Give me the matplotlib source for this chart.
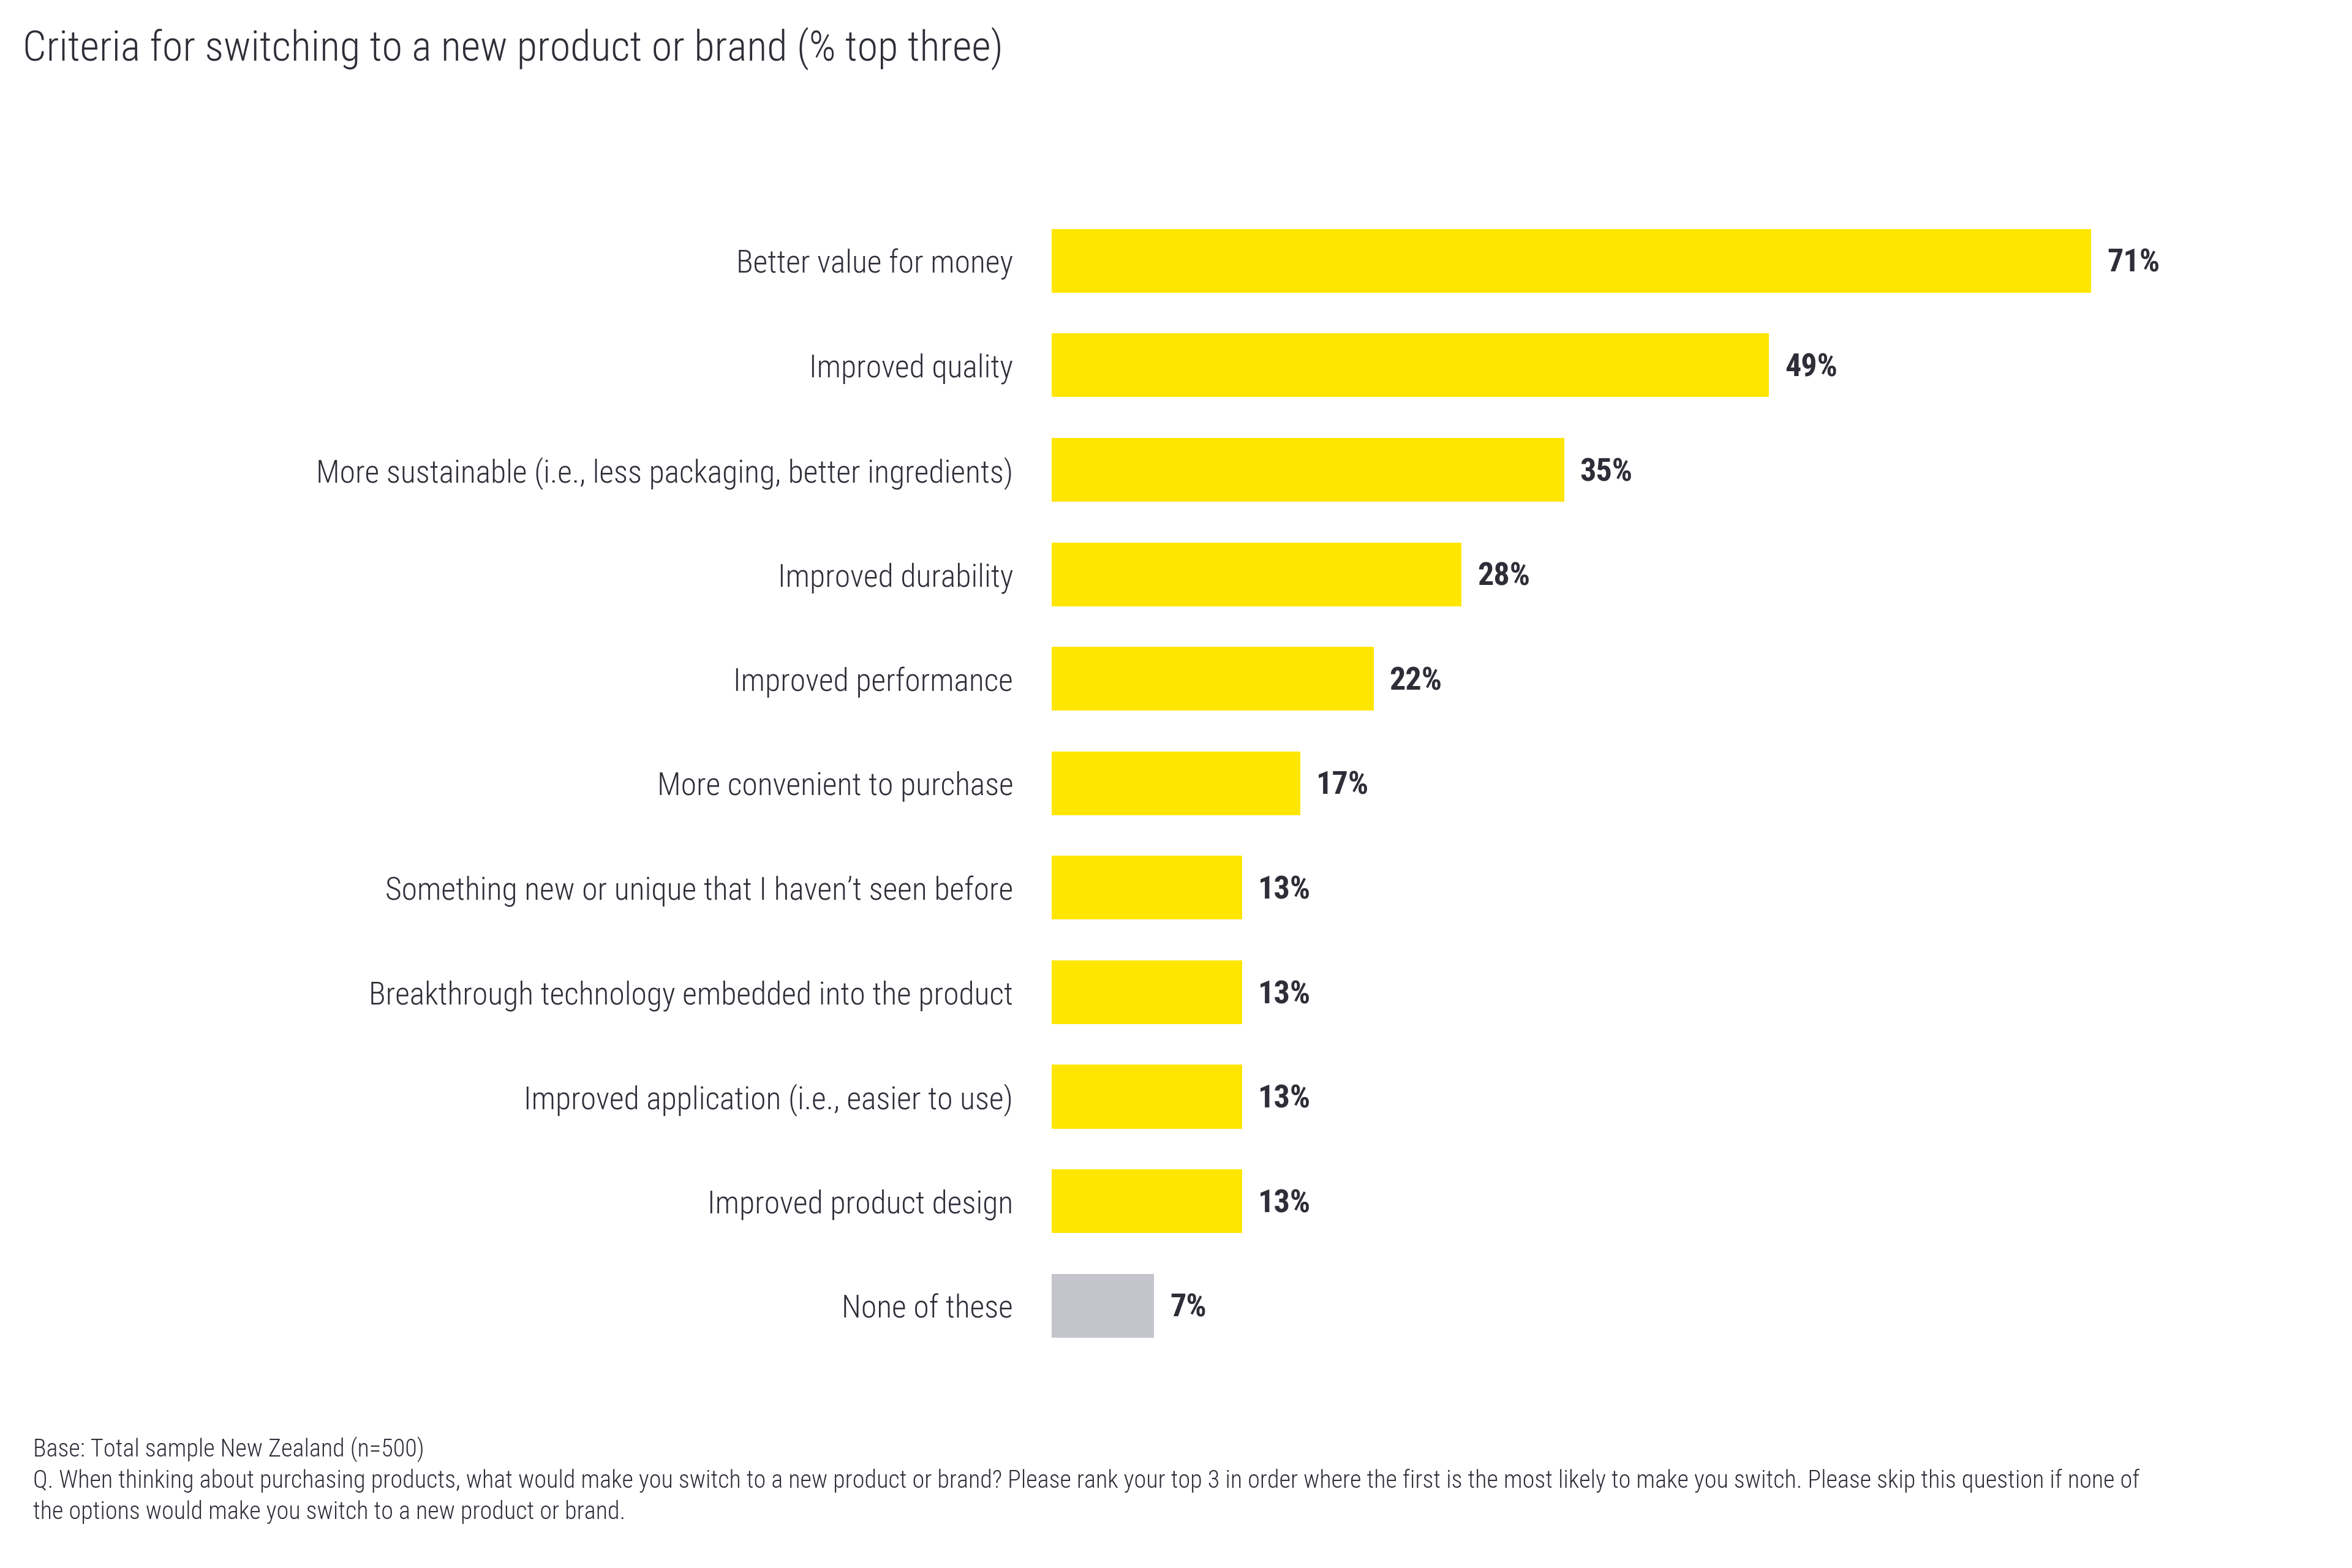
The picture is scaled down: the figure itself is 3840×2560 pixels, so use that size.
import matplotlib
matplotlib.use("Agg")
import matplotlib.pyplot as plt
from matplotlib import font_manager

## Data
categories = [
    "Better value for money",
    "Improved quality",
    "More sustainable (i.e., less packaging, better ingredients)",
    "Improved durability",
    "Improved performance",
    "More convenient to purchase",
    "Something new or unique that I haven\u2019t seen before",
    "Breakthrough technology embedded into the product",
    "Improved application (i.e., easier to use)",
    "Improved product design",
    "None of these",
]
values = [71, 49, 35, 28, 22, 17, 13, 13, 13, 13, 7]
value_labels = ["71%", "49%", "35%", "28%", "22%", "17%", "13%", "13%", "13%", "13%", "7%"]
is_none = [False] * 10 + [True]

title = "Criteria for switching to a new product or brand (% top three)"
footnote = [
    "Base: Total sample New Zealand (n=500)",
    "Q. When thinking about purchasing products, what would make you switch to a new product or brand? "
    "Please rank your top 3 in order where the first is the most likely to make you switch. "
    "Please skip this question if none of",
    "the options would make you switch to a new product or brand.",
]

YELLOW = "#FFE600"
GREY = "#C4C4CD"
TEXT = "#2E2E38"

# pick a narrow face if one is installed
names = {f.name for f in font_manager.fontManager.ttflist}
stretch = "normal"
family = "DejaVu Sans"
for cand in ["Roboto Condensed", "Open Sans Condensed", "Liberation Sans Narrow"]:
    if cand in names:
        family = cand
        break
else:
    if any(f.name == "DejaVu Sans" and f.stretch == "condensed" for f in font_manager.fontManager.ttflist):
        stretch = "condensed"

plt.rcParams["font.family"] = [family, "DejaVu Sans"]
plt.rcParams["font.stretch"] = stretch

fig = plt.figure(figsize=(12.8, 2560 / 300), dpi=300)
ax = fig.add_axes([0.4471, 0.134, 0.498, 0.733])

colors = [GREY if n else YELLOW for n in is_none]
ypos = list(range(len(categories)))
ax.barh(ypos, values, height=0.61, color=colors, linewidth=0)

ax.set_xlim(0, 80)
ax.set_ylim(len(categories) - 0.5, -0.5)
ax.set_yticks(ypos)
ax.set_yticklabels(categories, fontsize=12.4, color=TEXT, fontweight="light")
ax.tick_params(axis="y", length=0, pad=15)
ax.set_xticks([])
for s in ax.spines.values():
    s.set_visible(False)

for y, v, lab in zip(ypos, values, value_labels):
    ax.annotate(lab, (v, y), xytext=(6.2, -1), textcoords="offset points",
                ha="left", va="center", fontsize=12.5, fontweight="bold", color=TEXT)

fig.text(37 / 3840, 1 - 80 / 2560, title, fontsize=16.4, color=TEXT,
         ha="left", va="center", fontweight="light")

for i, line in enumerate(footnote):
    fig.text(54 / 3840, 1 - (2366 + 51 * i) / 2560, line, fontsize=9.66,
             color=TEXT, ha="left", va="center", fontweight="light")

fig.savefig("out.png", dpi=300, facecolor="white")
